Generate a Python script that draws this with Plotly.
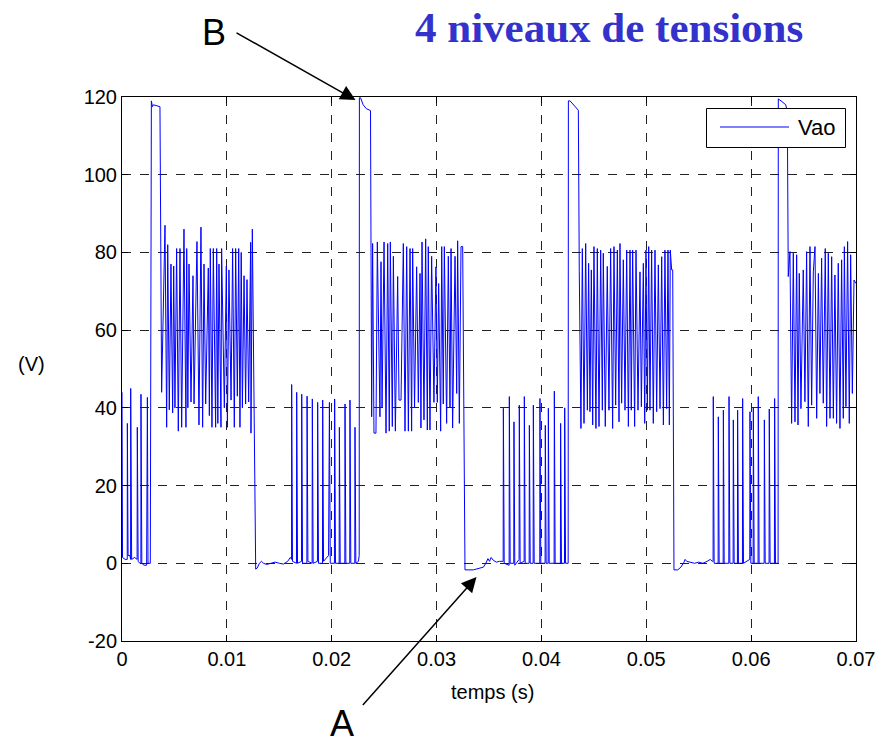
import plotly.graph_objects as go

# ---- data (time in ms, voltage in V) ----
L1_t = [0.00, 0.05, 0.30, 0.50, 0.51, 0.58, 0.75, 0.82, 0.83, 0.92, 1.20, 1.44, 1.46, 1.54, 1.70, 1.80, 1.81, 1.89, 2.10, 2.35, 2.42, 2.48, 2.70]
L1_v = [44, 1.5, 1, 1, 36, 2, 2, 1, 45, 1, 1.5, 1, 35, 0.5, 0, 0, 43.5, 0, -0.5, -0.5, 42.7, 0, 0]
T1_t = [2.73, 2.80, 2.90, 3.00, 3.62]
T1_v = [119, 119, 117.5, 118, 117.5]
U1_t = [3.78, 4.10, 4.26, 4.36, 4.51, 4.67, 4.83, 4.93, 5.05, 5.21, 5.37, 5.53, 5.69, 5.91, 6.10, 6.17, 6.28, 6.39, 6.58, 6.77,
        6.87, 7.15, 7.34, 7.53, 7.69, 7.82, 7.98, 8.23, 8.33, 8.42, 8.58, 8.71, 8.93, 9.03, 9.14, 9.25, 9.44, 9.50, 9.76, 9.95,
        10.05, 10.20, 10.40, 10.55, 10.71, 10.84, 11.00, 11.13, 11.25, 11.37, 11.48, 11.64, 11.79, 11.92, 12.08, 12.27, 12.30, 12.43]
U1_v = [44, 87, 35, 82, 39.5, 77, 38.7, 76.5, 40, 81, 34, 81, 35, 86, 35, 81, 40, 77, 41.5, 74,
        41, 82.8, 35.6, 86.5, 35, 77, 41, 76, 38, 81, 35, 81, 35, 81, 36, 77, 35, 81, 40, 76.5,
        35, 75.5, 42, 81, 35, 81, 43, 81, 35, 80, 40, 74, 41, 73, 41.5, 82.6, 33.5, 86]
Z1_t = [12.75, 12.90, 13.10, 13.30, 13.50, 13.80, 14.20, 14.60, 15.00, 15.40, 15.80, 16.05]
Z1_v = [-1.5, -1.2, 0, 0.5, 0, -0.3, 0, 0.3, 0, -0.2, 0.5, 1.5]
L2_t = [16.17, 16.18, 16.26, 16.64, 16.66, 16.74, 17.12, 17.14, 17.22, 17.63, 17.65, 17.73, 18.13, 18.15, 18.23,
        18.64, 18.66, 18.74, 19.12, 19.14, 19.22, 19.70, 19.78, 19.86, 20.26, 20.28, 20.36, 20.71, 20.73, 20.81,
        21.25, 21.27, 21.35, 21.72, 21.74, 21.82, 22.20, 22.22, 22.30, 22.55, 22.62]
L2_v = [1, 46, 0.5, 0, 44, 0, 0.5, 43.5, 0, 0, 43, 0.5, 0, 42.3, 0,
        0.5, 41.4, 0, 0, 42, 0.5, 2, 41.4, 0, 0, 42.3, 0, 0, 35, 0,
        0, 41, 0, 0, 42, 0, 0, 35, 0, 0.5, 2]
T2_t = [22.64, 22.75, 23.00, 23.30, 23.70]
T2_v = [119.8, 119.8, 118, 117, 116.5]
U2_t = [23.81, 23.90, 24.03, 24.22, 24.35, 24.60, 24.70, 24.80, 24.99, 25.18, 25.34, 25.49, 25.59, 25.78, 25.88,
        26.07, 26.29, 26.42, 26.61, 26.83, 26.99, 27.15, 27.31, 27.47, 27.62, 27.72, 27.90, 28.10, 28.26, 28.42,
        28.51, 28.61, 28.80, 28.96, 29.12, 29.21, 29.37, 29.53, 29.75, 29.94, 30.07, 30.20, 30.39, 30.49, 30.64,
        30.74, 30.96, 31.12, 31.28, 31.38, 31.53, 31.76, 31.92, 32.01, 32.17, 32.33, 32.49]
U2_v = [37.7, 82.3, 33.5, 33.5, 82.7, 37.7, 77.6, 40.2, 82.7, 33.5, 82.3, 34, 82.7, 35.2, 79,
        34, 73.8, 42, 42, 82.3, 34, 81.5, 34, 81, 34, 81, 40, 76.3, 41.4, 74.6,
        34.8, 82.7, 36.9, 83.5, 34.3, 81.5, 34.3, 79, 41.4, 76.3, 41.4, 72, 34, 81.5, 41,
        81.5, 36, 79, 40, 81, 34.8, 79, 43.7, 83, 36, 81.5, 81.5]
Z2_t = [32.71, 33.50, 34.00, 34.46, 34.70, 34.90, 35.05, 35.20, 35.40, 35.70, 36.00, 36.20, 36.35]
Z2_v = [-1.7, -1.7, -1.3, -1, 0, 1.2, 0.5, 1.5, 0.8, 0.3, 0.5, 0.6, 0.5]
L3_t = [36.37, 36.45, 36.92, 36.94, 37.02, 37.36, 37.38, 37.46, 37.87, 37.89, 37.97, 38.35, 38.37, 38.45,
        38.83, 38.85, 38.93, 39.21, 39.23, 39.31, 39.84, 39.86, 39.94, 40.35, 40.37, 40.45, 40.64, 40.66, 40.74,
        41.21, 41.23, 41.31, 41.81, 41.83, 41.91, 42.20, 42.22, 42.30, 42.55]
L3_v = [39.9, 0, -0.5, 42.9, 0, 0, 36.4, -0.5, 1, 40.7, 0, 0.5, 42.9, 0,
        0, 35.5, 0, 0, 40.7, 0, 0, 42.4, 0, 0, 35.5, 0, 0, 39.9, 0,
        0, 44.3, 0, 0, 36, 0, 0, 40, 0, 0]
T3_t = [42.57, 42.73, 43.52]
T3_v = [119, 119, 116.6]
U3_t = [43.61, 43.77, 43.90, 44.06, 44.22, 44.38, 44.50, 44.63, 44.76, 44.89, 45.01, 45.20, 45.33, 45.49, 45.65,
        45.81, 45.90, 46.09, 46.28, 46.44, 46.60, 46.79, 46.92, 47.08, 47.24, 47.40, 47.49, 47.65, 47.81, 47.97,
        48.13, 48.29, 48.45, 48.57, 48.70, 48.89, 49.02, 49.21, 49.40, 49.53, 49.72, 49.85, 49.97, 50.10, 50.23,
        50.35, 50.51, 50.67, 50.83, 50.99, 51.15, 51.31, 51.47, 51.63, 51.78, 51.94, 52.07, 52.20, 52.29, 52.42, 52.52]
U3_v = [75, 34.7, 81, 36, 82.3, 39.4, 77.2, 39, 75.5, 35.6, 81.5, 34.7, 81, 35.2, 80.6,
        39.4, 79.8, 35.2, 76.4, 39.4, 81, 34.7, 81.5, 40.7, 80.6, 36.4, 82.3, 41.2, 78.1, 39.4,
        80.6, 35.2, 80.6, 39.4, 80.6, 35.2, 80.6, 39.4, 75, 40.3, 77.2, 36, 80.6, 39.4, 81.5,
        39.4, 80.6, 36, 80.6, 39, 76.8, 39.8, 78.9, 35.6, 80.6, 39.8, 80.6, 35.6, 80.6, 75.5, 75.5]
Z3_t = [52.64, 53.00, 53.30, 53.60, 53.70, 53.85, 54.20, 54.60, 55.00, 55.40, 55.80, 56.10, 56.30, 56.37]
Z3_v = [-1.7, -1.7, -1, 0.3, 1, 0.5, 0.3, 0, 0.3, 0, 0.5, 1, 0.5, 0.5]
L4_t = [56.39, 56.47, 56.85, 56.87, 56.95, 57.33, 57.35, 57.43, 57.87, 57.89, 57.97, 58.28, 58.30, 58.38,
        58.69, 58.71, 58.79, 59.17, 59.19, 59.27, 59.87, 59.89, 59.97, 60.19, 60.21, 60.29, 60.66, 60.68, 60.76,
        61.24, 61.26, 61.34, 61.71, 61.73, 61.81, 62.22, 62.24, 62.32, 62.57]
L4_v = [42.9, 0, 0, 37.7, 0, 0, 39.4, 0, 0, 42.9, 0, 0, 36.9, 0,
        0, 39.4, 0, 0, 42.4, 0, 1, 39, 0, 0, 40, 0, 0, 42.9, 0,
        0, 36.9, 0, 0, 39.7, 0, 0, 42.4, 0, 0]
T4_t = [62.59, 62.85, 63.10, 63.30, 63.45]
T4_v = [119.5, 119, 118.5, 118, 116]
U4_t = [63.54, 63.70, 63.86, 64.02, 64.18, 64.34, 64.47, 64.59, 64.75, 64.97, 65.13, 65.29, 65.45, 65.61, 65.77,
        65.93, 66.09, 66.25, 66.41, 66.56, 66.72, 66.88, 67.07, 67.20, 67.36, 67.52, 67.68, 67.84, 67.99, 68.15,
        68.31, 68.47, 68.63, 68.79, 68.89, 69.04, 69.20, 69.36, 69.49, 69.65, 69.81, 70.00]
U4_v = [73.8, 80.2, 36, 79.8, 36.4, 79.4, 35.6, 74.6, 39.8, 75.5, 41.6, 80.2, 35.2, 81.5, 40.7,
        75, 81.5, 37.3, 74.6, 43.7, 78.5, 41.2, 81, 35.2, 79.8, 37.3, 78.9, 37.3, 74.2, 36,
        77.2, 34.7, 78.1, 37.3, 81.5, 40.3, 82.8, 36, 79.4, 43.7, 72.9, 72]

x_ticks = [0, 0.01, 0.02, 0.03, 0.04, 0.05, 0.06, 0.07]
x_labels = ["0", "0.01", "0.02", "0.03", "0.04", "0.05", "0.06", "0.07"]
y_ticks = [-20, 0, 20, 40, 60, 80, 100, 120]
y_labels = ["-20", "0", "20", "40", "60", "80", "100", "120"]

segments_t = [L1_t, T1_t, U1_t, Z1_t, L2_t, T2_t, U2_t, Z2_t, L3_t, T3_t, U3_t, Z3_t, L4_t, T4_t, U4_t]
segments_v = [L1_v, T1_v, U1_v, Z1_v, L2_v, T2_v, U2_v, Z2_v, L3_v, T3_v, U3_v, Z3_v, L4_v, T4_v, U4_v]
t_s, vao = [], []
for ts, vs in zip(segments_t, segments_v):
    assert len(ts) == len(vs)
    t_s += [t / 1000.0 for t in ts]
    vao += vs

W, H = 890, 746
ML, MR, MT, MB = 122, 34, 97, 105
PW, PH = W - ML - MR, H - MT - MB


def px(x):
    return (x - ML) / PW


def py(y):
    return (H - MB - y) / PH


fig = go.Figure()
fig.add_trace(go.Scatter(x=t_s, y=vao, mode="lines", name="Vao",
                         line=dict(color="#0000ff", width=1), showlegend=False))

axis_common = dict(showline=True, linecolor="black", linewidth=1, mirror="ticks",
                   ticks="inside", ticklen=6, tickcolor="black", tickwidth=1,
                   showgrid=True, gridcolor="#222222", gridwidth=1, griddash="dash",
                   zeroline=False, tickfont=dict(family="Liberation Sans, Arial", size=20, color="black"))

fig.update_xaxes(range=[0, 0.07], tickvals=x_ticks, ticktext=x_labels, **axis_common)
fig.update_yaxes(range=[-20, 120], tickvals=y_ticks, ticktext=y_labels, **axis_common)

font_sans = "Liberation Sans, Arial"
annotations = [
    dict(text="<b>4 niveaux de tensions</b>", x=px(609), y=py(27), xref="paper", yref="paper",
         showarrow=False, xanchor="center", yanchor="middle",
         font=dict(family="Liberation Serif, Times New Roman", size=43, color="#3333cc")),
    dict(text="(V)", x=px(31), y=py(364), xref="paper", yref="paper", showarrow=False,
         xanchor="center", yanchor="middle", font=dict(family=font_sans, size=20, color="black")),
    dict(text="temps (s)", x=px(492), y=py(692), xref="paper", yref="paper", showarrow=False,
         xanchor="center", yanchor="middle", font=dict(family=font_sans, size=20, color="black")),
    dict(text="B", x=px(214), y=py(32), xref="paper", yref="paper", showarrow=False,
         xanchor="center", yanchor="middle", font=dict(family=font_sans, size=36, color="black")),
    dict(text="A", x=px(342), y=py(746), xref="paper", yref="paper", showarrow=False,
         xanchor="center", yanchor="bottom", font=dict(family=font_sans, size=36, color="black")),
    dict(text="", x=px(355.5), y=py(100), xref="paper", yref="paper", showarrow=True,
         ax=235 - 355.5, ay=32 - 100, arrowhead=2, arrowsize=2, arrowwidth=1.5, arrowcolor="black",
         standoff=0, startstandoff=0),
    dict(text="", x=px(476.5), y=py(577), xref="paper", yref="paper", showarrow=True,
         ax=361.5 - 476.5, ay=706.5 - 577, arrowhead=2, arrowsize=2, arrowwidth=1.5, arrowcolor="black",
         standoff=0, startstandoff=0),
    dict(text="Vao", x=px(796), y=py(127.5), xref="paper", yref="paper", showarrow=False,
         xanchor="left", yanchor="middle", font=dict(family=font_sans, size=22, color="black")),
]

shapes = [
    dict(type="rect", xref="paper", yref="paper", x0=px(706.5), x1=px(845.5), y0=py(147.5), y1=py(108.5),
         line=dict(color="black", width=1), fillcolor="white", layer="above"),
    dict(type="line", xref="paper", yref="paper", x0=px(720), x1=px(789), y0=py(127), y1=py(127),
         line=dict(color="#0000ff", width=1), layer="above"),
]

fig.update_layout(width=W, height=H, margin=dict(l=ML, r=MR, t=MT, b=MB),
                  paper_bgcolor="white", plot_bgcolor="white",
                  annotations=annotations, shapes=shapes, showlegend=False)

fig.write_html("out.html")
